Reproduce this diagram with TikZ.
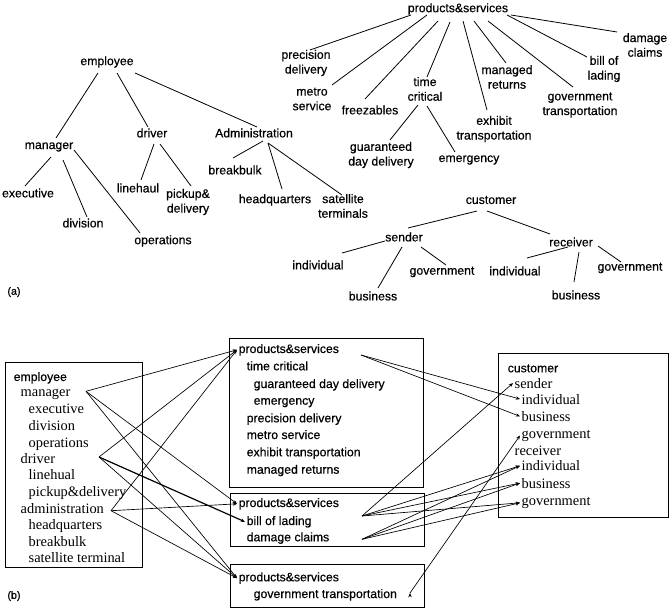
\documentclass[tikz,border=0pt]{standalone}
\usepackage{fontspec}
\setmainfont{Liberation Serif}
\setsansfont{Liberation Sans}[FakeBold=0.5]
\usepackage{tikz}
\usetikzlibrary{calc,arrows.meta}
\tikzset{tree node/.style={font=\sffamily\fontsize{9.2}{11}\selectfont,align=center,inner sep=1pt},
         sans item/.style={font=\sffamily\fontsize{9.2}{11}\selectfont,anchor=base west,inner sep=1pt},
         serif item/.style={font=\fontsize{10.8}{13}\selectfont,anchor=base west,inner sep=1pt},
         list box/.style={draw,line width=0.6pt},
         map arrow/.style={-{Stealth[length=3.2pt,width=2.6pt]},line width=0.5pt},
            }

\begin{document}
\begin{tikzpicture}[x=0.75pt,y=-0.75pt,line width=0.6pt]
    \useasboundingbox (0,0) rectangle (671,610);
    %% (a) employee tree
    \node[tree node] (employee) at (107,62) {employee};
    \node[tree node] (manager) at (49,147) {manager};
    \node[tree node] (driver) at (152,133) {driver};
    \node[tree node] (admin) at (254,133) {Administration};
    \node[tree node] (executive) at (28,193) {executive};
    \node[tree node] (division) at (83,223) {division};
    \node[tree node] (operations) at (163,241) {operations};
    \node[tree node] (linehaul) at (138,188) {linehaul};
    \node[tree node] (pickup) at (188,202) {pickup\&\\delivery};
    \node[tree node] (breakbulk) at (235,170) {breakbulk};
    \node[tree node] (headquarters) at (275,200) {headquarters};
    \node[tree node] (satellite) at (343,206) {satellite\\terminals};

    \path[draw]
    ($(employee)+(-9,11)$) edge ($(manager)+(7,-9)$)
    ($(employee)+(10,11)$) edge ($(driver)+(-4,-6)$)
    ($(employee)+(28,11)$) edge ($(admin)+(3,-6)$)
    ($(manager)+(2,10)$) edge ($(executive)+(-3,-7)$)
    ($(manager)+(14,13)$) edge ($(division)+(4,-6)$)
    ($(manager)+(25,3)$) edge ($(operations)+(-23,-8)$)
    ($(driver)+(2,11)$) edge ($(linehaul)+(3,-8)$)
    ($(driver)+(8,11)$) edge ($(pickup)+(3,-16)$)
    ($(admin)+(9,8)$) edge ($(breakbulk)+(-2,-12)$)
    ($(admin)+(14,10)$) edge ($(headquarters)+(7,-11)$)
    ($(admin)+(14,10)$) edge ($(satellite)+(-1,-11)$)
    ;

    %% (a) products&services tree
    \node[tree node] (ps) at (458,9) {products\&services};
    \node[tree node] (precision) at (306,63) {precision\\delivery};
    \node[tree node] (metro) at (312,99) {metro\\service};
    \node[tree node] (freezables) at (370,110) {freezables};
    \node[tree node] (timecrit) at (425,89) {time\\critical};
    \node[tree node] (guaranteed) at (381,155) {guaranteed\\day delivery};
    \node[tree node] (emergency) at (469,160) {emergency};
    \node[tree node] (exhibit) at (494,129) {exhibit\\transportation};
    \node[tree node] (managed) at (507,77) {managed\\returns};
    \node[tree node] (govtrans) at (580,105) {government\\transportation};
    \node[tree node] (lading) at (604,69) {bill of\\lading};
    \node[tree node] (damage) at (645,45) {damage\\claims};

    \path[draw]
    ($(ps)+(-47,6)$) edge ($(precision)+(4,-13)$)
    ($(ps)+(-31,6)$) edge ($(metro)+(20,-14)$)
    ($(ps)+(-20,12)$) edge ($(freezables)+(-5,-11)$)
    ($(ps)+(-8,13)$) edge ($(timecrit)+(2,-12)$)
    ($(ps)+(5,12)$) edge ($(exhibit)+(-7,-19)$)
    ($(ps)+(16,12)$) edge ($(managed)+(-1,-14)$)
    ($(ps)+(30,12)$) edge ($(govtrans)+(-7,-18)$)
    ($(ps)+(49,6)$) edge ($(lading)+(-17,-12)$)
    ($(ps)+(53,6)$) edge ($(damage)+(-28,-13)$)
    ($(timecrit)+(-7,16)$) edge ($(guaranteed)+(9,-15)$)
    ($(timecrit)+(2,17)$) edge ($(emergency)+(-14,-8)$)
    ;

    %% (a) customer tree
    \node[tree node] (customer) at (491,200) {customer};
    \node[tree node] (sender) at (404,237) {sender};
    \node[tree node] (receiver) at (571,242) {receiver};
    \node[tree node] (sindiv) at (318,265) {individual};
    \node[tree node] (sbusiness) at (373,296) {business};
    \node[tree node] (sgov) at (442,272) {government};
    \node[tree node] (rindiv) at (515,271) {individual};
    \node[tree node] (rbusiness) at (576,295) {business};
    \node[tree node] (rgov) at (630,268) {government};

    \path[draw]
    ($(customer)+(-14,11)$) edge ($(sender)+(4,-9)$)
    ($(customer)+(-4,11)$) edge ($(receiver)+(-21,-8)$)
    ($(sender)+(-19,4)$) edge ($(sindiv)+(24,-12)$)
    ($(sender)+(-2,10)$) edge ($(sbusiness)+(5,-8)$)
    ($(sender)+(17,10)$) edge ($(sgov)+(4,-7)$)
    ($(receiver)+(-3,5)$) edge ($(rindiv)+(12,-13)$)
    ($(receiver)+(8,10)$) edge ($(rbusiness)+(-2,-13)$)
    ($(receiver)+(27,4)$) edge ($(rgov)+(-9,-6)$)
    ;

    \node[font=\sffamily\fontsize{8}{9.6}\selectfont] (labela) at (14,292) {(a)};

    %% (b) boxes
    \draw[list box] (5,362) rectangle (142,567);
    \draw[list box] (229,338) rectangle (423,487);
    \draw[list box] (230,493) rectangle (424,546);
    \draw[list box] (230,564) rectangle (424,607);
    \draw[list box] (498,353) rectangle (668,517);

    \node[sans item] (lemployee) at (12,381) {employee};
    \node[serif item] (lmanager) at (19,396.3) {manager};
    \node[serif item] (lexecutive) at (27,413) {executive};
    \node[serif item] (ldivision) at (27,430) {division};
    \node[serif item] (loperations) at (27,447) {operations};
    \node[serif item] (ldriver) at (19,463) {driver};
    \node[serif item] (llinehual) at (27,479.7) {linehual};
    \node[serif item] (lpickup) at (27,496.3) {pickup\&delivery};
    \node[serif item] (ladmin) at (19,513.7) {administration};
    \node[serif item] (lhq) at (27,529.7) {headquarters};
    \node[serif item] (lbreakbulk) at (27,546.3) {breakbulk};
    \node[serif item] (lsatellite) at (27,562.3) {satellite terminal};

    \node[sans item] (mps) at (237,353) {products\&services};
    \node[sans item] (mtime) at (245,370.3) {time critical};
    \node[sans item] (mguaranteed) at (252,388) {guaranteed day delivery};
    \node[sans item] (memergency) at (252,404.7) {emergency};
    \node[sans item] (mprecision) at (245,422.3) {precision delivery};
    \node[sans item] (mmetro) at (245,439) {metro service};
    \node[sans item] (mexhibit) at (245,456.3) {exhibit transportation};
    \node[sans item] (mmanaged) at (245,473.7) {managed returns};

    \node[sans item] (nps) at (237,507) {products\&services};
    \node[sans item] (nlading) at (245,525) {bill of lading};
    \node[sans item] (ndamage) at (245,541.3) {damage claims};

    \node[sans item] (gps) at (237,581.3) {products\&services};
    \node[sans item] (ggovtrans) at (252,598) {government transportation};

    \node[sans item] (rcustomer) at (506,372.3) {customer};
    \node[serif item] (rsender) at (513,388) {sender};
    \node[serif item] (rsindiv) at (520,404) {individual};
    \node[serif item] (rsbusiness) at (520,421.3) {business};
    \node[serif item] (rsgov) at (520,438) {government};
    \node[serif item] (rreceiver) at (513,455.7) {receiver};
    \node[serif item] (rrindiv) at (520,470.7) {individual};
    \node[serif item] (rrbusiness) at (520,488) {business};
    \node[serif item] (rrgov) at (520,505.3) {government};

    %% (b) mappings
    \path[draw,map arrow]
    ($(lmanager.base west)+(67,-5)$) edge (mps.west)
    ($(lmanager.base west)+(67,-5)$) edge (nps.west)
    ($(lmanager.base west)+(67,-5)$) edge (gps.west)
    ($(ldriver.base west)+(80,-6)$) edge (mps.west)
    ($(ldriver.base west)+(80,-6)$) edge[line width=0.9pt] (nlading.west)
    ($(ldriver.base west)+(80,-6)$) edge (gps.west)
    ($(ladmin.base west)+(92,-3)$) edge (mps.west)
    ($(ladmin.base west)+(92,-3)$) edge (nps.west)
    ($(ladmin.base west)+(92,-3)$) edge (gps.west)
    ($(mps.base west)+(124,2)$) edge (rsindiv.west)
    ($(mps.base west)+(124,2)$) edge (rsbusiness.west)
    ($(nlading.base west)+(117,-9)$) edge (rsender.west)
    ($(nlading.base west)+(117,-9)$) edge (rrindiv.west)
    ($(nlading.base west)+(117,-9)$) edge (rrbusiness.west)
    ($(nlading.base west)+(117,-9)$) edge (rrgov.west)
    ($(ndamage.base west)+(117,-2)$) edge (rrindiv.west)
    ($(ndamage.base west)+(117,-2)$) edge (rrbusiness.west)
    ($(ndamage.base west)+(117,-2)$) edge (rrgov.west)
    ($(ggovtrans.base west)+(158,-5)$) edge (rsgov.west)
    ;

    \node[font=\sffamily\fontsize{8}{9.6}\selectfont] (labelb) at (14,596) {(b)};
\end{tikzpicture}
\end{document}
